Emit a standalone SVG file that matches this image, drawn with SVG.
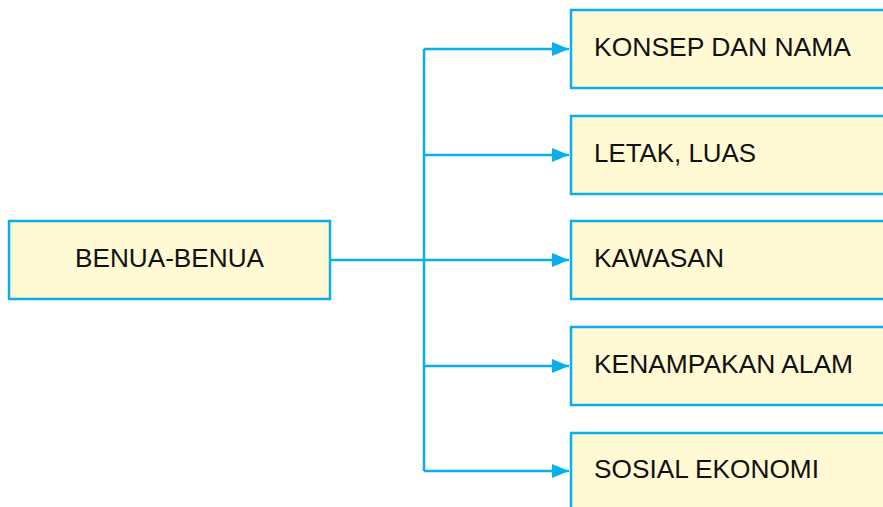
<svg xmlns="http://www.w3.org/2000/svg" width="883" height="507" viewBox="0 0 883 507">
<defs>
<marker id="ah" markerWidth="18" markerHeight="14" refX="17" refY="7" orient="auto" markerUnits="userSpaceOnUse">
<path d="M0,0 L17,7 L0,14 Z" fill="#0aaee9"/>
</marker>
<style>
.box{fill:#fff9d4;stroke:#0aaee9;stroke-width:2.5}
.t{font-family:"Liberation Sans",Arial,sans-serif;font-size:26.5px;fill:#111}
.c{fill:none;stroke:#0aaee9;stroke-width:2.5}
</style>
</defs>
<rect width="883" height="507" fill="#fff"/>
<g id="connectors">
<path class="c" d="M330,260 H424"/>
<path class="c" d="M424,49 V471"/>
<path class="c" d="M424,49 H569" marker-end="url(#ah)"/>
<path class="c" d="M424,155 H569" marker-end="url(#ah)"/>
<path class="c" d="M424,260 H569" marker-end="url(#ah)"/>
<path class="c" d="M424,366 H569" marker-end="url(#ah)"/>
<path class="c" d="M424,471 H569" marker-end="url(#ah)"/>
</g>
<g id="benua">
<rect class="box" x="9" y="221" width="321" height="78"/>
<text class="t" x="75" y="267" textLength="189" lengthAdjust="spacingAndGlyphs">BENUA-BENUA</text>
</g>
<g id="konsep">
<rect class="box" x="571" y="10" width="330" height="78"/>
<text class="t" x="594" y="56" textLength="257" lengthAdjust="spacingAndGlyphs">KONSEP DAN NAMA</text>
</g>
<g id="letak">
<rect class="box" x="571" y="116" width="330" height="78"/>
<text class="t" x="594" y="162" textLength="162" lengthAdjust="spacingAndGlyphs">LETAK, LUAS</text>
</g>
<g id="kawasan">
<rect class="box" x="571" y="221" width="330" height="78"/>
<text class="t" x="594" y="267" textLength="130" lengthAdjust="spacingAndGlyphs">KAWASAN</text>
</g>
<g id="kenampakan">
<rect class="box" x="571" y="327" width="330" height="78"/>
<text class="t" x="594" y="373" textLength="259" lengthAdjust="spacingAndGlyphs">KENAMPAKAN ALAM</text>
</g>
<g id="sosial">
<rect class="box" x="571" y="433" width="330" height="78"/>
<text class="t" x="594" y="478" textLength="225" lengthAdjust="spacingAndGlyphs">SOSIAL EKONOMI</text>
</g>
</svg>
